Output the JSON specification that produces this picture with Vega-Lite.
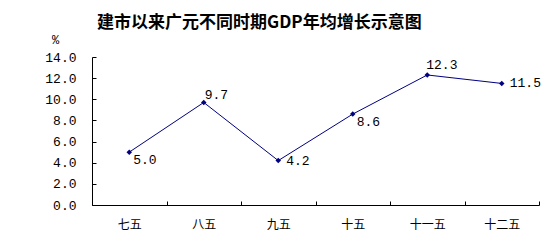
{
  "$schema": "https://vega.github.io/schema/vega-lite/v6.json",
  "autosize": "none",
  "width": 447,
  "height": 148,
  "padding": {"left": 92, "top": 57, "right": 15, "bottom": 40},
  "background": "white",
  "title": {
    "text": "建市以来广元不同时期GDP年均增长示意图",
    "anchor": "start",
    "frame": "group",
    "dx": 5,
    "offset": 1,
    "font": "Noto Sans CJK SC",
    "fontSize": 17,
    "fontWeight": "bold",
    "color": "black"
  },
  "data": {
    "values": [
      {"period": "七五", "value": 5.0},
      {"period": "八五", "value": 9.7},
      {"period": "九五", "value": 4.2},
      {"period": "十五", "value": 8.6},
      {"period": "十一五", "value": 12.3},
      {"period": "十二五", "value": 11.5}
    ]
  },
  "config": {
    "view": {"stroke": null},
    "axis": {
      "domainColor": "black",
      "tickColor": "black",
      "grid": false,
      "labelColor": "black"
    }
  },
  "encoding": {
    "x": {
      "field": "period",
      "type": "nominal",
      "sort": null,
      "scale": {"type": "band", "paddingInner": 0, "paddingOuter": 0},
      "axis": {
        "title": null,
        "labelAngle": 0,
        "tickBand": "extent",
        "tickSize": -4,
        "labelPadding": 18,
        "labelFont": "Noto Sans CJK SC",
        "labelFontSize": 12
      }
    },
    "y": {
      "field": "value",
      "type": "quantitative",
      "scale": {"domain": [0, 14]},
      "axis": {
        "values": [0, 2, 4, 6, 8, 10, 12, 14],
        "format": ".1f",
        "tickSize": -4,
        "labelPadding": 20,
        "labelFont": "Liberation Mono",
        "labelFontSize": 13,
        "title": "%",
        "titleAngle": 0,
        "titleX": -37,
        "titleY": -18,
        "titleAlign": "center",
        "titleBaseline": "middle",
        "titleFont": "Liberation Mono",
        "titleFontSize": 12,
        "titleFontWeight": "normal",
        "titleColor": "black"
      }
    }
  },
  "layer": [
    {"mark": {"type": "line", "color": "#000080", "strokeWidth": 1}},
    {"mark": {"type": "point", "shape": "diamond", "filled": true, "color": "#000080", "size": 30, "opacity": 1}},
    {
      "transform": [{"filter": "datum.period == '七五' || datum.period == '十五'"}],
      "mark": {"type": "text", "align": "left", "baseline": "middle", "dx": 4, "dy": 8, "font": "Liberation Mono", "fontSize": 13, "color": "black"},
      "encoding": {"text": {"field": "value", "format": ".1f"}}
    },
    {
      "transform": [{"filter": "datum.period == '八五'"}],
      "mark": {"type": "text", "align": "left", "baseline": "middle", "dx": 1, "dy": -7, "font": "Liberation Mono", "fontSize": 13, "color": "black"},
      "encoding": {"text": {"field": "value", "format": ".1f"}}
    },
    {
      "transform": [{"filter": "datum.period == '九五' || datum.period == '十二五'"}],
      "mark": {"type": "text", "align": "left", "baseline": "middle", "dx": 8, "dy": 0, "font": "Liberation Mono", "fontSize": 13, "color": "black"},
      "encoding": {"text": {"field": "value", "format": ".1f"}}
    },
    {
      "transform": [{"filter": "datum.period == '十一五'"}],
      "mark": {"type": "text", "align": "left", "baseline": "middle", "dx": -1, "dy": -10, "font": "Liberation Mono", "fontSize": 13, "color": "black"},
      "encoding": {"text": {"field": "value", "format": ".1f"}}
    }
  ]
}
